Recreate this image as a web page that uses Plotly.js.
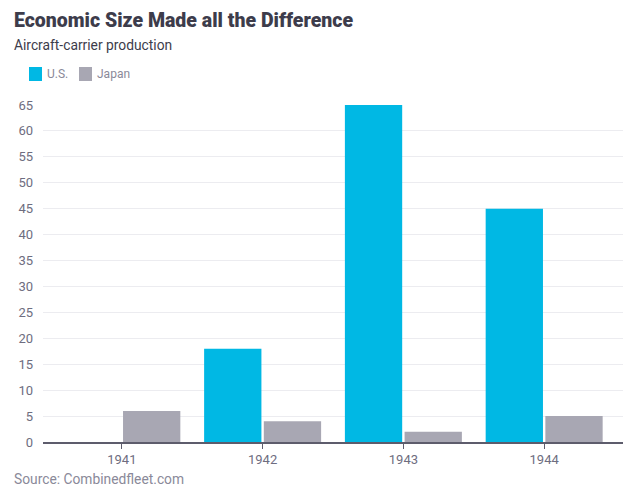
<!DOCTYPE html>
<html>
<head>
<meta charset="utf-8">
<script src="https://cdn.plot.ly/plotly-3.0.1.min.js"></script>
<style>html,body{margin:0;padding:0;background:#fff;}#chart{width:640px;height:499px;}</style>
</head>
<body>
<div id="chart"></div>
<script>
var years = ['1941', '1942', '1943', '1944'];
var usValues = [0, 18, 65, 45];
var japanValues = [6, 4, 2, 5];
var yTicks = [0, 5, 10, 15, 20, 25, 30, 35, 40, 45, 50, 55, 60, 65];
var seriesNames = ['U.S.', 'Japan'];
var seriesColors = ['#00b8e4', '#a8a7b3'];

var traces = [
  {type: 'bar', name: seriesNames[0], x: years, y: usValues,
   marker: {color: seriesColors[0]}, hoverinfo: 'x+y+name'},
  {type: 'bar', name: seriesNames[1], x: years, y: japanValues,
   marker: {color: seriesColors[1]}, hoverinfo: 'x+y+name'}
];

// custom legend (squares + labels) placed above the plot
var legendShapes = [
  {type: 'rect', xref: 'paper', yref: 'paper', x0: -0.0241, x1: -0.0017, y0: 1.0712, y1: 1.1128,
   fillcolor: seriesColors[0], line: {width: 0}},
  {type: 'rect', xref: 'paper', yref: 'paper', x0: 0.0621, x1: 0.0845, y0: 1.0712, y1: 1.1128,
   fillcolor: seriesColors[1], line: {width: 0}}
];

var layout = {
  width: 640, height: 499,
  margin: {l: 43, r: 17, t: 105, b: 57},
  paper_bgcolor: '#ffffff', plot_bgcolor: '#ffffff',
  font: {family: 'Roboto, sans-serif', color: '#6e6d80', size: 13},
  title: {text: 'Economic Size Made all the Difference', x: 14 / 640, xref: 'container', xanchor: 'left',
          y: 1 - 20.5 / 499, yref: 'container', yanchor: 'middle',
          font: {family: 'Roboto, sans-serif', size: 19.5, weight: 900, color: '#3d3c4b'}},
  barmode: 'group', bargap: 0.152, bargroupgap: 0.04,
  showlegend: false,
  shapes: legendShapes,
  xaxis: {type: 'category', range: [-0.56, 3.56], showgrid: false, showline: true,
          linecolor: '#5d5c6c', linewidth: 1.5, ticks: 'outside', ticklen: 5, tickwidth: 1,
          tickcolor: '#5d5c6c', tickfont: {size: 13, color: '#6e6d80'}, fixedrange: true},
  yaxis: {range: [0, 65], tickvals: yTicks, showgrid: true, gridcolor: '#ececf0', gridwidth: 1,
          zeroline: false, showline: false, ticks: '', ticklabelstandoff: 9,
          tickfont: {size: 13, color: '#6e6d80'}, fixedrange: true},
  annotations: [
    {text: 'Aircraft-carrier production', xref: 'paper', yref: 'paper', x: -0.053, y: 1.178,
     xanchor: 'left', yanchor: 'middle', showarrow: false,
     font: {size: 13.8, color: '#3d3c4b', family: 'Roboto, sans-serif'}},
    {text: seriesNames[0], xref: 'paper', yref: 'paper', x: 0.004, y: 1.092,
     xanchor: 'left', yanchor: 'middle', showarrow: false,
     font: {size: 12, color: '#8a8999', family: 'Roboto, sans-serif'}},
    {text: seriesNames[1], xref: 'paper', yref: 'paper', x: 0.089, y: 1.092,
     xanchor: 'left', yanchor: 'middle', showarrow: false,
     font: {size: 12, color: '#8a8999', family: 'Roboto, sans-serif'}},
    {text: 'Source: Combinedfleet.com', xref: 'paper', yref: 'paper', x: -0.053, y: -0.11,
     xanchor: 'left', yanchor: 'middle', showarrow: false,
     font: {size: 13.8, color: '#8a8999', family: 'Roboto, sans-serif'}}
  ]
};

Plotly.newPlot('chart', traces, layout, {displayModeBar: false, staticPlot: true});
</script>
</body>
</html>
